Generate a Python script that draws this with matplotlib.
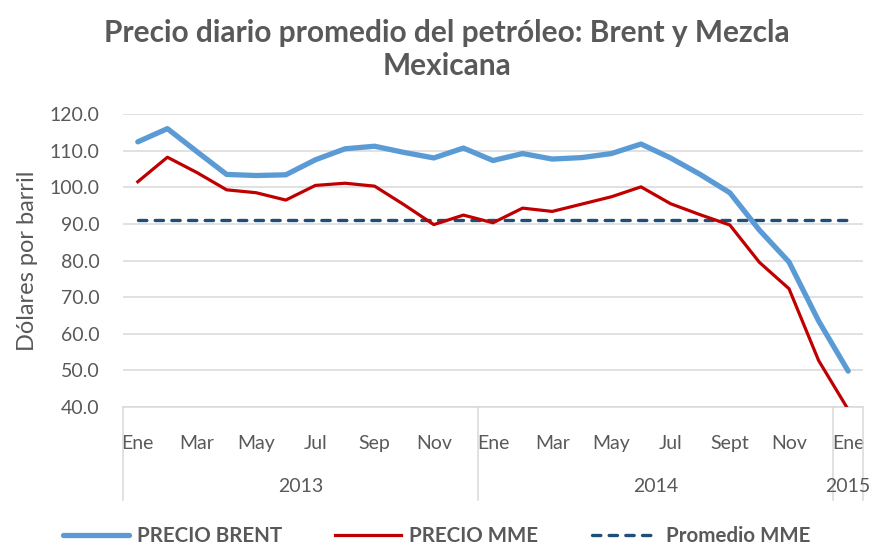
import matplotlib
matplotlib.use("Agg")
import matplotlib.pyplot as plt
import matplotlib.transforms as mtransforms
from matplotlib.lines import Line2D

plt.rcParams['font.family'] = ['Lato', 'DejaVu Sans']

months = ["Ene", "Feb", "Mar", "Abr", "May", "Jun", "Jul", "Ago", "Sep", "Oct", "Nov", "Dic",
          "Ene", "Feb", "Mar", "Abr", "May", "Jun", "Jul", "Ago", "Sept", "Oct", "Nov", "Dic",
          "Ene"]
years = ["2013", "2014", "2015"]
year_counts = [12, 12, 1]

brent = [112.4, 116.0, 109.7, 103.5, 103.2, 103.4, 107.5, 110.5, 111.2, 109.5, 108.0, 110.7,
         107.3, 109.2, 107.7, 108.1, 109.2, 111.8, 108.0, 103.5, 98.5, 88.3, 79.6, 63.5, 49.8]
mme = [101.5, 108.2, 104.0, 99.3, 98.5, 96.5, 100.5, 101.1, 100.3, 95.2, 89.8, 92.4,
       90.3, 94.3, 93.4, 95.4, 97.4, 100.1, 95.5, 92.5, 89.7, 79.5, 72.3, 52.7, 39.3]
mme_avg = [91.1] * len(months)

gray = "#595959"
fig = plt.figure(figsize=(8.73, 5.46), dpi=100)
ax = fig.add_axes([123/873, 1-407/546, (863-123)/873, (407-114)/546])

x = list(range(len(months)))
ax.plot(x, mme_avg, color="#1F4E79", lw=2.4, ls=(0, (2.5, 2.5)), zorder=3,
        label="Promedio MME", dash_capstyle="round")
ax.plot(x, mme, color="#C00000", lw=2.3, zorder=4, label="PRECIO MME")
ax.plot(x, brent, color="#5B9BD5", lw=3.8, zorder=5, label="PRECIO BRENT",
        solid_capstyle="round")

ax.set_xlim(-0.5, len(months) - 0.5)
ax.set_ylim(40, 120)
ax.set_yticks(range(40, 121, 10))
ax.set_yticklabels([f"{v:.1f}" for v in range(40, 121, 10)])
ax.grid(axis="y", color="#D9D9D9", lw=1.1)
ax.set_axisbelow(True)
for s in ["top", "right", "left"]:
    ax.spines[s].set_visible(False)
ax.spines["bottom"].set_color("#D9D9D9")
ax.spines["bottom"].set_linewidth(1.1)
ax.tick_params(axis="y", length=0, labelsize=14, colors=gray, pad=17)
ax.set_xticks(x[::2])
ax.set_xticklabels(months[::2])
ax.tick_params(axis="x", length=0, labelsize=14, colors=gray, pad=20)
ax.set_ylabel("Dólares por barril", fontsize=17, color=gray, labelpad=8)

trans = mtransforms.blended_transform_factory(ax.transData, ax.transAxes)
b = -0.5
bounds = [b]
for c in year_counts:
    b += c
    bounds.append(b)
for bx in bounds:
    ax.plot([bx, bx], [0, -0.318], transform=trans, color="#D9D9D9", lw=1.1, clip_on=False)
for i, yr in enumerate(years):
    cx = (bounds[i] + bounds[i+1]) / 2
    ax.text(cx, -0.273, yr, transform=trans, ha="center", va="center", fontsize=14, color=gray)

fig.text(0.512, 0.965, "Precio diario promedio del petróleo: Brent y Mezcla\nMexicana",
         ha="center", va="top", fontsize=21.5, fontweight="bold", color=gray, linespacing=1.2)

handles = [Line2D([], [], color="#5B9BD5", lw=3.8, solid_capstyle="round"),
           Line2D([], [], color="#C00000", lw=2.3),
           Line2D([], [], color="#1F4E79", lw=2.4, ls=(0, (2.5, 2.5)), dash_capstyle="round")]
labels = ["PRECIO BRENT", "PRECIO MME", "Promedio MME"]
leg = fig.legend(handles, labels, loc="center", bbox_to_anchor=(0.5, 0.018), ncol=3,
                 frameon=False, fontsize=14.8, handlelength=3.2, columnspacing=2.6,
                 handletextpad=0.4)
for t in leg.get_texts():
    t.set_color(gray)
    t.set_fontweight("bold")

fig.savefig("out.png", dpi=100)
